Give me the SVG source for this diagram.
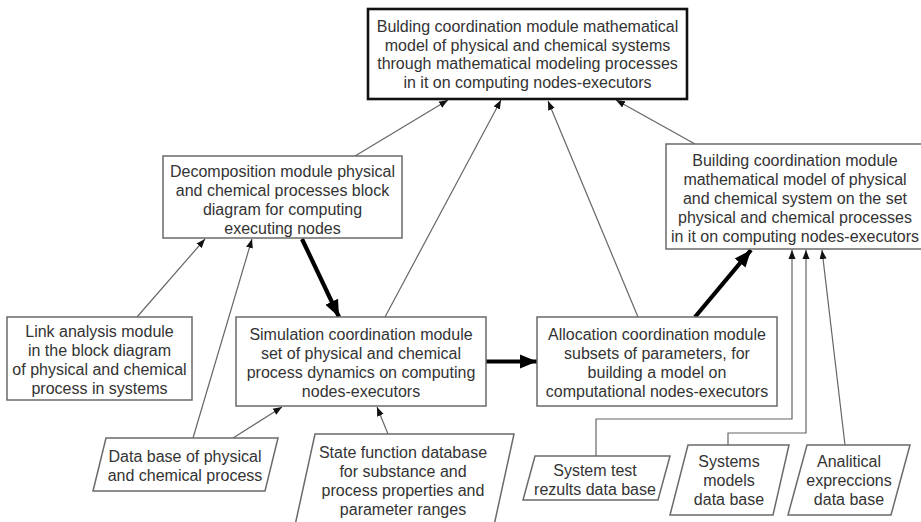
<svg xmlns="http://www.w3.org/2000/svg" width="921" height="522" viewBox="0 0 921 522">
<defs>
<style>
.box{fill:#fff;stroke:#6a6a6a;stroke-width:1.5}
.main{fill:#fff;stroke:#111;stroke-width:2.6}
.t{font-family:"Liberation Sans",Arial,sans-serif;font-size:16px;fill:#333;text-anchor:middle}
.thin{fill:none;stroke:#666;stroke-width:1.2}
.thick{fill:none;stroke:#000;stroke-width:4.2}
</style>
<marker id="ah" markerUnits="userSpaceOnUse" markerWidth="10" markerHeight="8" refX="9" refY="4" orient="auto">
<path d="M0,0.5 L9,4 L0,7.5 z" fill="#111"/>
</marker>
<marker id="ahb" markerUnits="userSpaceOnUse" markerWidth="18" markerHeight="16" refX="17" refY="8" orient="auto">
<path d="M0,1 L17,8 L0,15 z" fill="#000"/>
</marker>
</defs>
<rect width="921" height="522" fill="#fff"/>

<g id="connectors">
<path class="thin" d="M355,156 L448,100" marker-end="url(#ah)"/>
<path class="thin" d="M385,317 L501,100" marker-end="url(#ah)"/>
<path class="thin" d="M638,317 L548,101" marker-end="url(#ah)"/>
<path class="thin" d="M695,144 L616,100" marker-end="url(#ah)"/>
<path class="thin" d="M137,317 L205,239" marker-end="url(#ah)"/>
<path class="thin" d="M193,438 L252,239" marker-end="url(#ah)"/>
<path class="thin" d="M233,438 L282,407" marker-end="url(#ah)"/>
<path class="thin" d="M388,434 L377,407" marker-end="url(#ah)"/>
<path class="thin" d="M596,456 V419 H792 V250" marker-end="url(#ah)"/>
<path class="thin" d="M728,445 V433 H806 V250" marker-end="url(#ah)"/>
<path class="thin" d="M845,445 L822,250" marker-end="url(#ah)"/>
<path class="thick" d="M302,239 L339,317" marker-end="url(#ahb)"/>
<path class="thick" d="M486,361.5 L537,361.5" marker-end="url(#ahb)"/>
<path class="thick" d="M695,317 L751,250" marker-end="url(#ahb)"/>
</g>

<g id="n-top">
<rect class="main" x="368" y="9" width="319" height="90"/>
<text class="t" x="527.5" y="32">Bulding coordination module mathematical</text>
<text class="t" x="527.5" y="50.5">model of physical and chemical systems</text>
<text class="t" x="527.5" y="69">through mathematical modeling processes</text>
<text class="t" x="527.5" y="87.5">in it on computing nodes-executors</text>
</g>

<g id="n-decomp">
<rect class="box" x="163" y="156" width="239" height="82"/>
<text class="t" x="282.5" y="176.5">Decomposition module physical</text>
<text class="t" x="282.5" y="195.5">and chemical processes block</text>
<text class="t" x="282.5" y="214.5">diagram for computing</text>
<text class="t" x="282.5" y="233.5">executing nodes</text>
</g>

<g id="n-building">
<rect class="box" x="666" y="144" width="260" height="105"/>
<text class="t" x="795" y="166">Building coordination module</text>
<text class="t" x="795" y="185">mathematical model of physical</text>
<text class="t" x="795" y="204">and chemical system on the set</text>
<text class="t" x="795" y="223">physical and chemical processes</text>
<text class="t" x="795" y="242">in it on computing nodes-executors</text>
</g>

<g id="n-link">
<rect class="box" x="7" y="317" width="185" height="83"/>
<text class="t" x="99.5" y="337">Link analysis module</text>
<text class="t" x="99.5" y="356">in the block diagram</text>
<text class="t" x="99.5" y="375">of physical and chemical</text>
<text class="t" x="99.5" y="394">process in systems</text>
</g>

<g id="n-sim">
<rect class="box" x="236" y="317" width="250" height="89"/>
<text class="t" x="361" y="340">Simulation coordination module</text>
<text class="t" x="361" y="359">set of physical and chemical</text>
<text class="t" x="361" y="378">process dynamics on computing</text>
<text class="t" x="361" y="397">nodes-executors</text>
</g>

<g id="n-alloc">
<rect class="box" x="537" y="317" width="240" height="89"/>
<text class="t" x="657" y="340">Allocation coordination module</text>
<text class="t" x="657" y="359">subsets of parameters, for</text>
<text class="t" x="657" y="378">building a model on</text>
<text class="t" x="657" y="397">computational nodes-executors</text>
</g>

<g id="n-db">
<polygon class="box" points="106,438 278,438 265,491 93,491"/>
<text class="t" x="185" y="462">Data base of physical</text>
<text class="t" x="185" y="481">and chemical process</text>
</g>

<g id="n-state">
<polygon class="box" points="315,434 514,434 493,530 294,530"/>
<text class="t" x="403" y="458">State function database</text>
<text class="t" x="403" y="477">for substance and</text>
<text class="t" x="403" y="496">process properties and</text>
<text class="t" x="403" y="515">parameter ranges</text>
</g>

<g id="n-systest">
<polygon class="box" points="535,456 670,456 658,500 523,500"/>
<text class="t" x="595" y="476">System test</text>
<text class="t" x="595" y="495">rezults data base</text>
</g>

<g id="n-sysmodels">
<polygon class="box" points="688,445 789,445 773,515 670,515"/>
<text class="t" x="729" y="467">Systems</text>
<text class="t" x="729" y="486">models</text>
<text class="t" x="729" y="505">data base</text>
</g>

<g id="n-anal">
<polygon class="box" points="807,445 910,445 891,515 788,515"/>
<text class="t" x="849" y="467">Analitical</text>
<text class="t" x="849" y="486">expreccions</text>
<text class="t" x="849" y="505">data base</text>
</g>
</svg>
